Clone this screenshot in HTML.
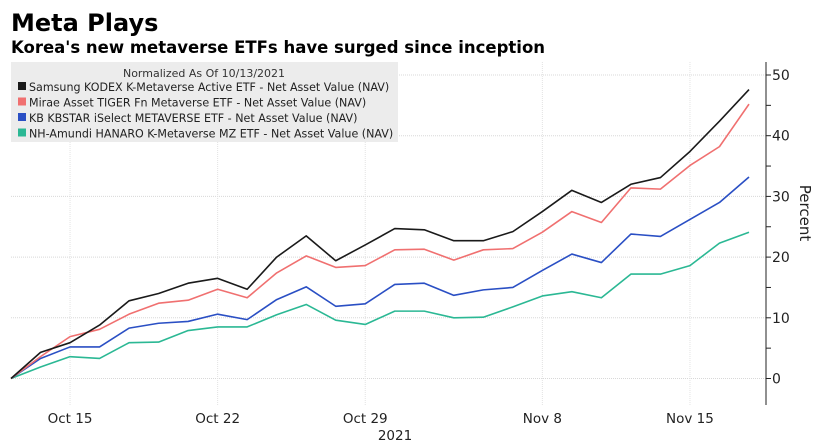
<!DOCTYPE html>
<html><head><meta charset="utf-8"><style>
body{margin:0;background:#fff;width:835px;height:442px;overflow:hidden;font-family:"DejaVu Sans","Liberation Sans",sans-serif;}
svg text{font-family:"DejaVu Sans","Liberation Sans",sans-serif;}
</style></head><body>
<svg id="chart" width="835" height="442" xmlns="http://www.w3.org/2000/svg">
<text x="11" y="31" font-size="24" font-weight="bold" fill="#000">Meta Plays</text>
<text x="11" y="53" font-size="16.5" font-weight="bold" fill="#000">Korea's new metaverse ETFs have surged since inception</text>
<g id="grid"></g>
<g id="lines"></g>
<g id="legend">
<rect x="11" y="62" width="387" height="80" fill="#ececec"/>
<text x="204" y="77" font-size="11" fill="#333" text-anchor="middle">Normalized As Of 10/13/2021</text>
</g>
<g id="axis"></g>
</svg>
<script>
const dates=["Oct13","Oct14","Oct15","Oct18","Oct19","Oct20","Oct21","Oct22","Oct25","Oct26","Oct27","Oct28","Oct29","Nov1","Nov2","Nov3","Nov4","Nov5","Nov8","Nov9","Nov10","Nov11","Nov12","Nov15","Nov16","Nov17"];
const samsung=[0,4.3,5.9,8.8,12.8,14.0,15.7,16.5,14.7,20.0,23.5,19.4,22.0,24.7,24.5,22.7,22.7,24.2,27.5,31.0,29.0,32.0,33.1,37.4,42.4,47.6];
const mirae=[0,3.6,6.9,8.1,10.6,12.4,12.9,14.7,13.3,17.4,20.2,18.3,18.6,21.2,21.3,19.5,21.2,21.4,24.1,27.5,25.7,31.4,31.2,35.1,38.2,45.2];
const kb=[0,3.3,5.2,5.2,8.3,9.1,9.4,10.6,9.7,13.0,15.1,11.9,12.3,15.5,15.7,13.7,14.6,15.0,17.8,20.5,19.1,23.8,23.4,26.2,29.0,33.2];
const nh=[0,1.9,3.6,3.3,5.9,6.0,7.9,8.5,8.5,10.5,12.2,9.6,8.9,11.1,11.1,10.0,10.1,11.8,13.6,14.3,13.3,17.2,17.2,18.6,22.3,24.1];
const yTicks=[0,10,20,30,40,50];
const xTickLabels=["Oct 15","Oct 22","Oct 29","Nov 8","Nov 15"];
const xTickIdx=[2,7,12,18,23];
const seriesNames=["Samsung KODEX K-Metaverse Active ETF - Net Asset Value (NAV)","Mirae Asset TIGER Fn Metaverse ETF - Net Asset Value (NAV)","KB KBSTAR iSelect METAVERSE ETF - Net Asset Value (NAV)","NH-Amundi HANARO K-Metaverse MZ ETF - Net Asset Value (NAV)"];
const colors=["#1a1a1a","#f07070","#2a4fc4","#2bb894"];
const NS="http://www.w3.org/2000/svg";
const X0=11,DX=29.52,Y0=378.5,PPU=6.07,AX=766;
const xs=i=>X0+i*DX, ys=v=>Y0-v*PPU;
function mk(t,a,p){const e=document.createElementNS(NS,t);for(const k in a)e.setAttribute(k,a[k]);p.appendChild(e);return e;}
const grid=document.getElementById('grid'),lines=document.getElementById('lines'),axis=document.getElementById('axis'),legend=document.getElementById('legend');
yTicks.forEach(v=>{
 const l=mk('line',{x1:X0,x2:AX,y1:ys(v),y2:ys(v),stroke:'#d8d8d8','stroke-width':1,'stroke-dasharray':'1,1'},grid);
 
 
 const t=mk('text',{x:AX+6,y:ys(v)+5,'font-size':14,fill:'#222'},axis);t.textContent=v;
 
 
});
for(let v=0;v<=50;v+=5){mk('line',{x1:AX,x2:AX+5,y1:ys(v),y2:ys(v),stroke:'#222','stroke-width':1},axis);}
xTickIdx.forEach((i,k)=>{
 const l=mk('line',{x1:xs(i),x2:xs(i),y1:62,y2:405,stroke:'#e2e2e2','stroke-width':1,'stroke-dasharray':'1,1'},grid);
 
 
 const t=mk('text',{x:xs(i),y:423,'font-size':13.5,fill:'#222','text-anchor':'middle'},axis);t.textContent=xTickLabels[k];
 
 
});
const yr=mk('text',{x:395,y:440,'font-size':13.5,fill:'#222','text-anchor':'middle'},axis);yr.textContent='2021';


const al=mk('line',{x1:AX,x2:AX,y1:62,y2:405,stroke:'#222','stroke-width':1},axis);


const yt=mk('text',{x:0,y:0,'font-size':15,fill:'#222','text-anchor':'middle',transform:'translate(800,213) rotate(90)'},axis);yt.textContent='Percent';


const series=[samsung,mirae,kb,nh];
const snames=['line-samsung','line-mirae','line-kb','line-nh'];
for(let s=series.length-1;s>=0;s--){
 const p=mk('polyline',{points:series[s].map((v,i)=>xs(i)+','+ys(v)).join(' '),fill:'none',stroke:colors[s],'stroke-width':1.6,'stroke-linejoin':'round'},lines);
 
 
}
seriesNames.forEach((n,s)=>{
 const y=91+s*15.5;
 const g=mk('g',{},legend);
 
 
 mk('rect',{x:18,y:y-9,width:8,height:8,fill:colors[s]},g);
 const t=mk('text',{x:29,y:y,'font-size':11.1,fill:'#222'},g);t.textContent=n;
});
</script>
</body></html>
